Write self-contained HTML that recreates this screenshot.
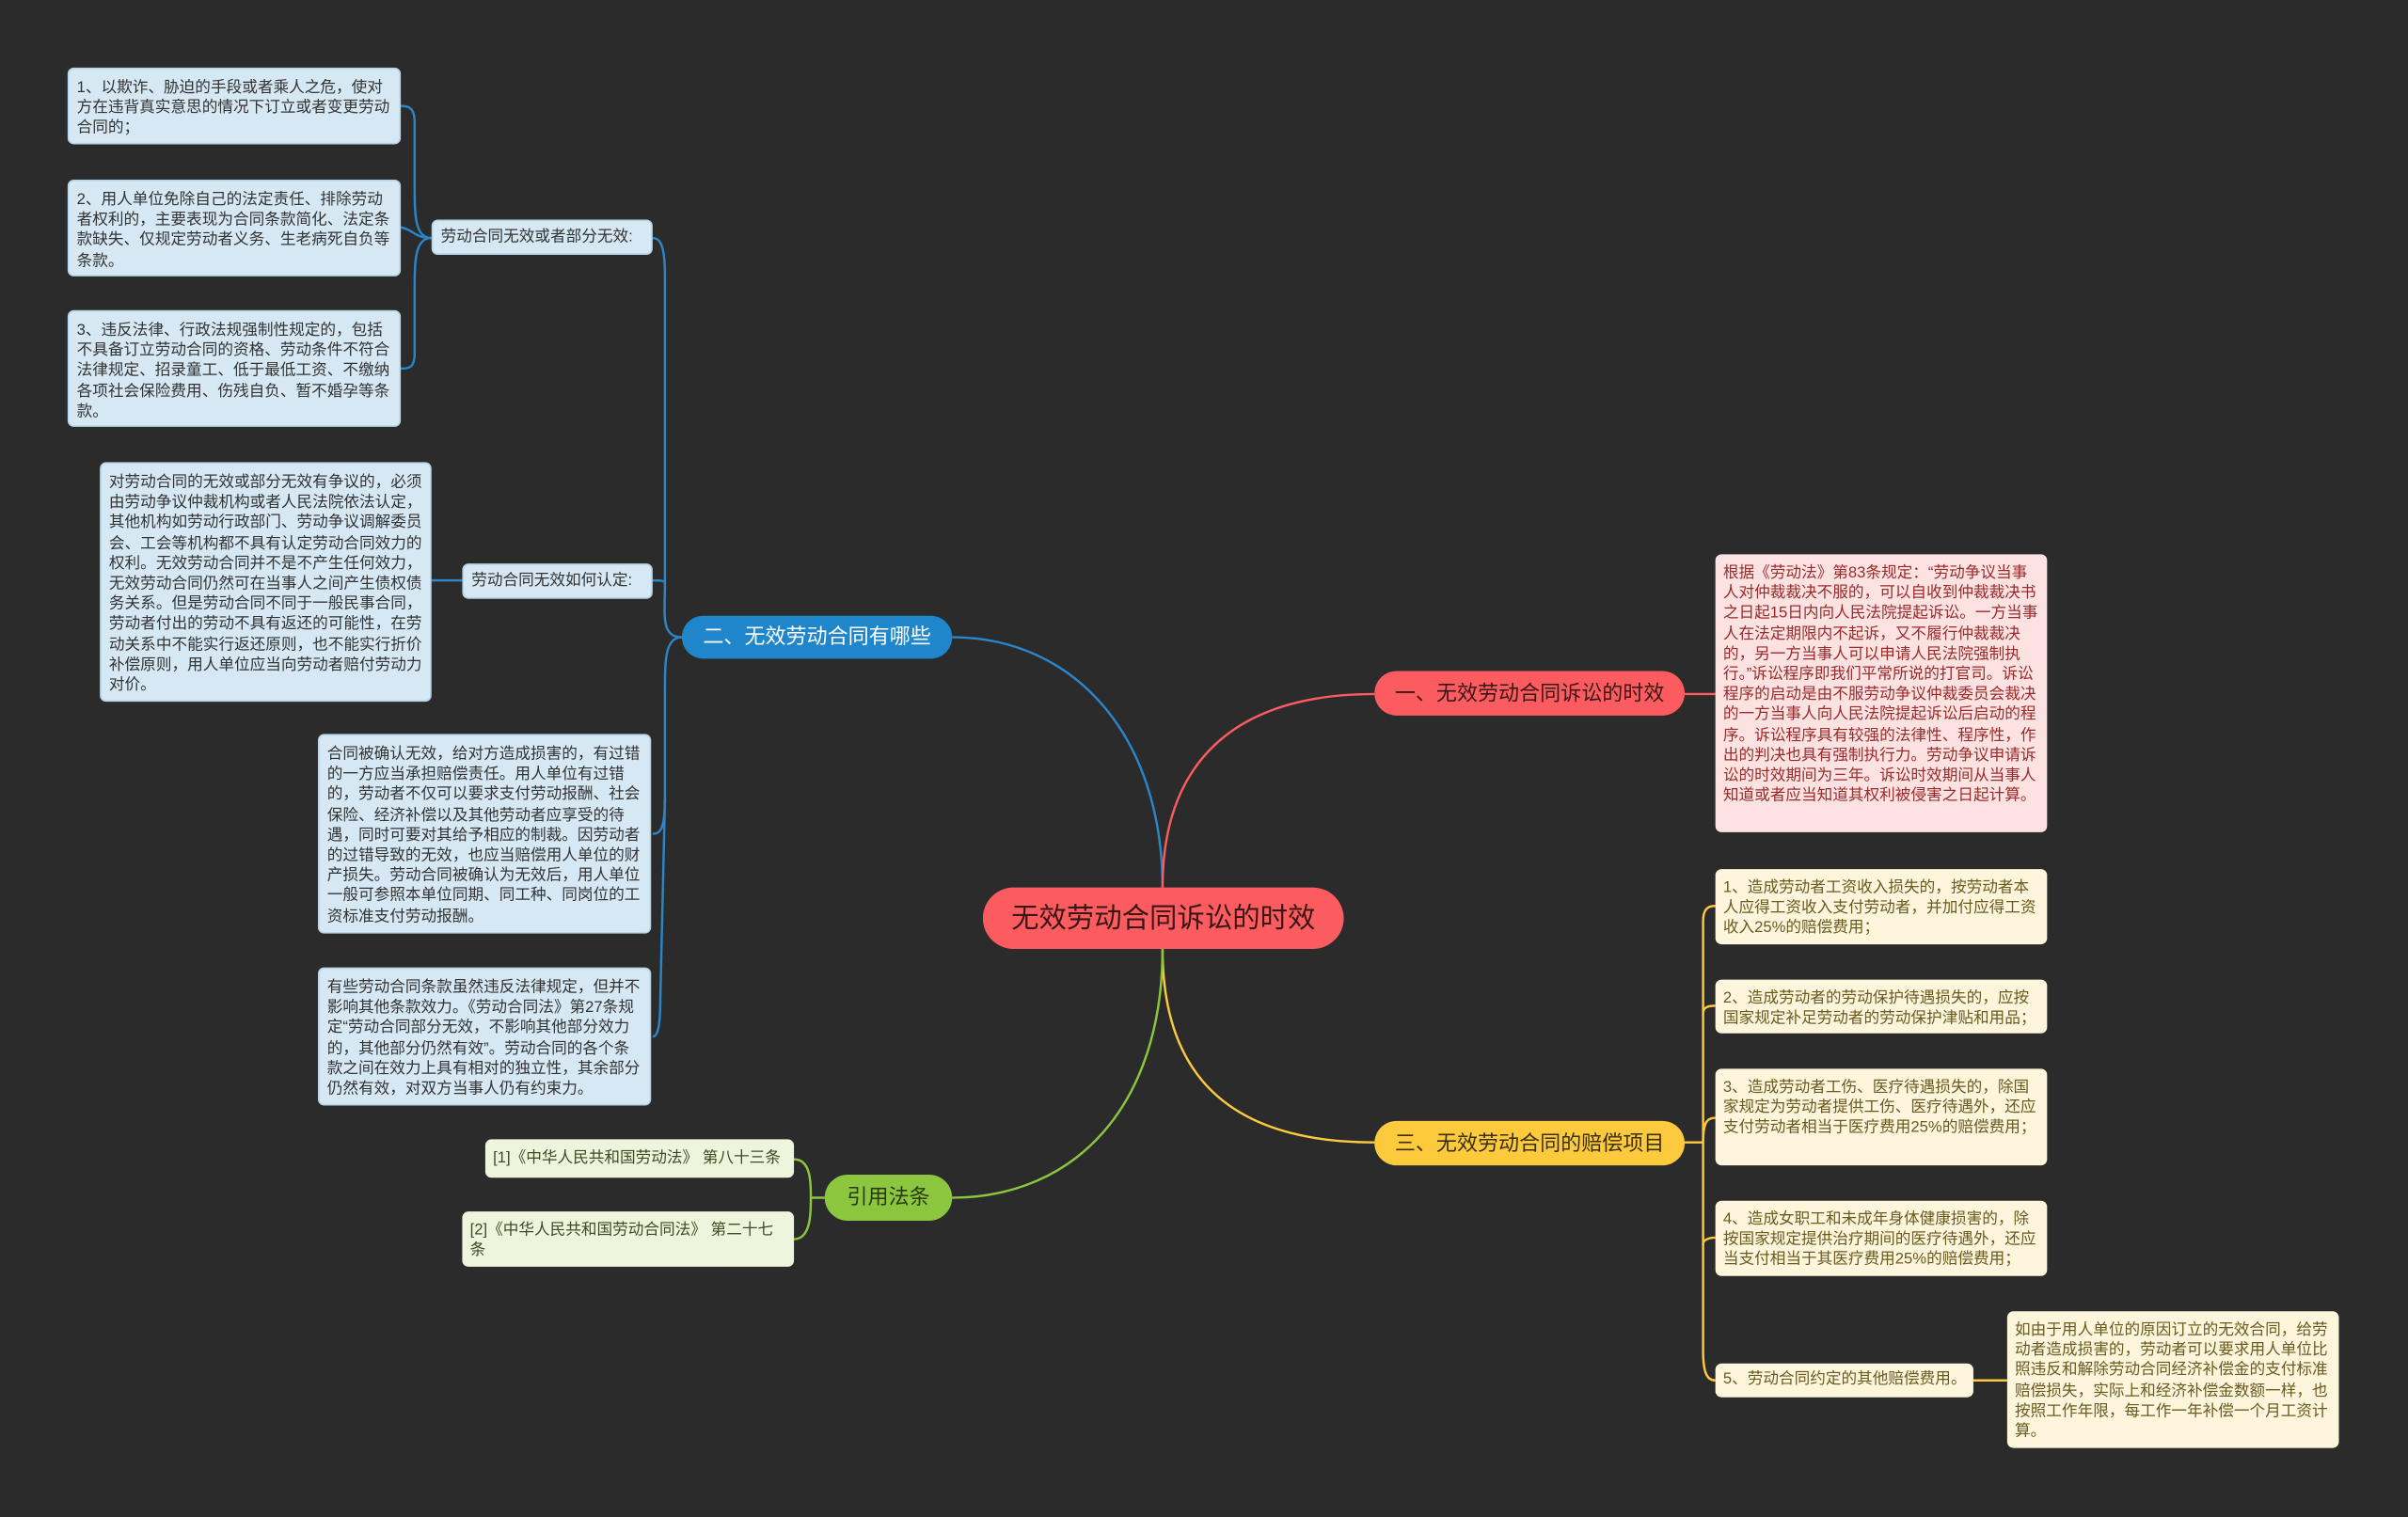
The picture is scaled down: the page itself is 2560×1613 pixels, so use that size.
<!DOCTYPE html>
<html><head><meta charset="utf-8">
<style>
html,body{margin:0;padding:0;background:#2b2b2b;width:2560px;height:1613px;overflow:hidden}
#w{position:absolute;left:0;top:0;width:1568px;height:988px;transform:scale(1.63265);transform-origin:0 0;font-family:"Liberation Sans","Noto Sans CJK SC",sans-serif}
.n{position:absolute;box-sizing:border-box;border-radius:4px;font-size:10.2px;line-height:13.2px;padding:6px 5px 5px;word-break:break-all}
.b{background:#d5e8f4;color:#333;border:1px solid #b7d3e6}
.r{background:#fde2e2;color:#9b2a2a}
.y{background:#fdf6dc;color:#6a5a20}
.g{background:#eef5dc;color:#3d4a22}
.s{padding:4px 5px 3px;white-space:nowrap}
.br{position:absolute;box-sizing:border-box;border-radius:15px;font-size:13.5px;text-align:center;white-space:nowrap}
svg{position:absolute;left:0;top:0}
</style></head><body><div id="w">
<svg width="1568" height="988" fill="none" stroke-width="1.5">
<g stroke="#2a86c8">
<path d="M757 578 C757 480 700 415 620 415"/>
<path d="M444 415 C430 415 433 400 433 380 L433 180 C433 160 430 155 425 155"/>
<path d="M433 380 C433 378 430 378 425 378"/>
<path d="M444 415 C433 415 433 430 433 450 L433 520 C433 540 430 543 425 543"/>
<path d="M433 520 L430 650 C430 670 428 675 425 675"/>
<path d="M281 155 C270 155 270 140 270 120 L270 80 C270 70 266 69 261 69"/>
<path d="M281 155 C270 155 270 150 261 148"/>
<path d="M281 155 C270 155 270 170 270 190 L270 230 C270 240 266 240 261 240"/>
<path d="M301 378 L281 378"/>
</g>
<path stroke="#fc5c5f" d="M757 578 C757 500 800 452 895 452 M1097 452 L1117 452"/>
<g stroke="#fdc93d">
<path d="M757 618 C757 700 800 744 895 744 M1097 744 L1109 744"/>
<path d="M1109 744 L1109 600 C1109 592 1112 590 1117 590"/>
<path d="M1109 660 C1109 656 1112 655 1117 655"/>
<path d="M1109 744 C1109 730 1112 728 1117 728"/>
<path d="M1109 744 L1109 880 C1109 895 1112 899 1117 899"/>
<path d="M1109 810 C1109 808 1112 806 1117 806"/>
<path d="M1285 899 L1307 899"/>
</g>
<g stroke="#8cc63f">
<path d="M757 618 C757 720 700 780 620 780"/>
<path d="M537 780 L528 780 C528 770 528 755 517 755 M528 780 C528 790 528 807 517 807"/>
</g>
</svg>
<div class="br" style="left:640px;top:578px;width:235px;height:40px;line-height:40px;border-radius:20px;background:#fc5c5f;color:#3a1515;font-size:18px">无效劳动合同诉讼的时效</div>
<div class="br" style="left:444px;top:401px;width:176px;height:28px;line-height:28px;background:#1f86cc;color:#fff">二、无效劳动合同有哪些</div>
<div class="br" style="left:895px;top:437px;width:202px;height:29px;line-height:29px;background:#fc5c5f;color:#3a1515">一、无效劳动合同诉讼的时效</div>
<div class="br" style="left:895px;top:730px;width:202px;height:29px;line-height:29px;background:#fdc93d;color:#3a3010">三、无效劳动合同的赔偿项目</div>
<div class="br" style="left:537px;top:765px;width:83px;height:30px;line-height:30px;background:#8cc63f;color:#2a3a10">引用法条</div>

<div class="n b s" style="left:281px;top:143px;width:144px;height:23px">劳动合同无效或者部分无效:</div>
<div class="n b s" style="left:301px;top:367px;width:124px;height:23px">劳动合同无效如何认定:</div>
<div class="n b" style="left:44px;top:44px;width:217px;height:50px">1、以欺诈、胁迫的手段或者乘人之危，使对方在违背真实意思的情况下订立或者变更劳动合同的；</div>
<div class="n b" style="left:44px;top:117px;width:217px;height:63px">2、用人单位免除自己的法定责任、排除劳动者权利的，主要表现为合同条款简化、法定条款缺失、仅规定劳动者义务、生老病死自负等条款。</div>
<div class="n b" style="left:44px;top:202px;width:217px;height:76px">3、违反法律、行政法规强制性规定的，包括不具备订立劳动合同的资格、劳动条件不符合法律规定、招录童工、低于最低工资、不缴纳各项社会保险费用、伤残自负、暂不婚孕等条款。</div>
<div class="n b" style="left:65px;top:301px;width:216px;height:156px">对劳动合同的无效或部分无效有争议的，必须由劳动争议仲裁机构或者人民法院依法认定，其他机构如劳动行政部门、劳动争议调解委员会、工会等机构都不具有认定劳动合同效力的权利。无效劳动合同并不是不产生任何效力，无效劳动合同仍然可在当事人之间产生债权债务关系。但是劳动合同不同于一般民事合同，劳动者付出的劳动不具有返还的可能性，在劳动关系中不能实行返还原则，也不能实行折价补偿原则，用人单位应当向劳动者赔付劳动力对价。</div>
<div class="n b" style="left:207px;top:478px;width:217px;height:130px">合同被确认无效，给对方造成损害的，有过错的一方应当承担赔偿责任。用人单位有过错的，劳动者不仅可以要求支付劳动报酬、社会保险、经济补偿以及其他劳动者应享受的待遇，同时可要对其给予相应的制裁。因劳动者的过错导致的无效，也应当赔偿用人单位的财产损失。劳动合同被确认为无效后，用人单位一般可参照本单位同期、同工种、同岗位的工资标准支付劳动报酬。</div>
<div class="n b" style="left:207px;top:630px;width:217px;height:90px">有些劳动合同条款虽然违反法律规定，但并不影响其他条款效力。《劳动合同法》第27条规定“劳动合同部分无效，不影响其他部分效力的，其他部分仍然有效”。劳动合同的各个条款之间在效力上具有相对的独立性，其余部分仍然有效，对双方当事人仍有约束力。</div>
<div class="n g s" style="left:316px;top:742px;width:201px;height:25px;padding-top:6px">[1]《中华人民共和国劳动法》 第八十三条</div>
<div class="n g" style="left:301px;top:789px;width:216px;height:36px">[2]《中华人民共和国劳动合同法》 第二十七条</div>
<div class="n r" style="left:1117px;top:361px;width:216px;height:181px">根据《劳动法》第83条规定：“劳动争议当事人对仲裁裁决不服的，可以自收到仲裁裁决书之日起15日内向人民法院提起诉讼。一方当事人在法定期限内不起诉，又不履行仲裁裁决的，另一方当事人可以申请人民法院强制执行。”诉讼程序即我们平常所说的打官司。诉讼程序的启动是由不服劳动争议仲裁委员会裁决的一方当事人向人民法院提起诉讼后启动的程序。诉讼程序具有较强的法律性、程序性，作出的判决也具有强制执行力。劳动争议申请诉讼的时效期间为三年。诉讼时效期间从当事人知道或者应当知道其权利被侵害之日起计算。</div>
<div class="n y" style="left:1117px;top:566px;width:216px;height:49px">1、造成劳动者工资收入损失的，按劳动者本人应得工资收入支付劳动者，并加付应得工资收入25%的赔偿费用；</div>
<div class="n y" style="left:1117px;top:638px;width:216px;height:35px">2、造成劳动者的劳动保护待遇损失的，应按国家规定补足劳动者的劳动保护津贴和用品；</div>
<div class="n y" style="left:1117px;top:696px;width:216px;height:63px">3、造成劳动者工伤、医疗待遇损失的，除国家规定为劳动者提供工伤、医疗待遇外，还应支付劳动者相当于医疗费用25%的赔偿费用；</div>
<div class="n y" style="left:1117px;top:782px;width:216px;height:49px">4、造成女职工和未成年身体健康损害的，除按国家规定提供治疗期间的医疗待遇外，还应当支付相当于其医疗费用25%的赔偿费用；</div>
<div class="n y s" style="left:1117px;top:888px;width:168px;height:22px">5、劳动合同约定的其他赔偿费用。</div>
<div class="n y" style="left:1307px;top:854px;width:216px;height:89px">如由于用人单位的原因订立的无效合同，给劳动者造成损害的，劳动者可以要求用人单位比照违反和解除劳动合同经济补偿金的支付标准赔偿损失，实际上和经济补偿金数额一样，也按照工作年限，每工作一年补偿一个月工资计算。</div>
</div></body></html>
